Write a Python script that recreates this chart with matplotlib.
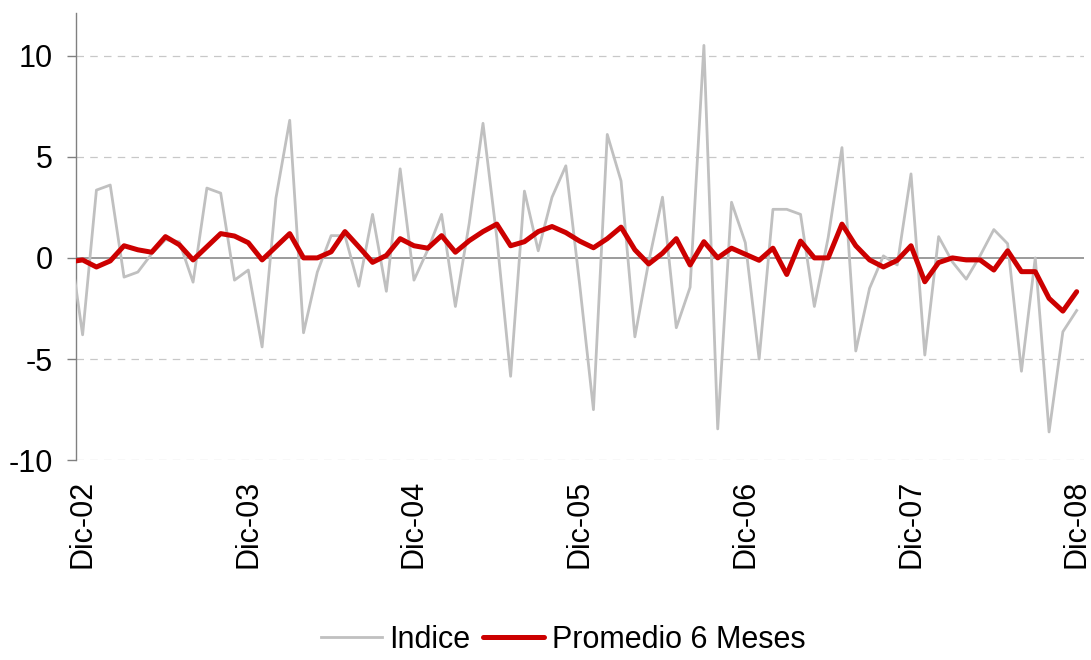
import numpy as np
import matplotlib.pyplot as plt

plt.rcParams['font.family'] = ['Liberation Sans', 'DejaVu Sans']

# monthly values, Nov-02 .. Dic-08 (first point sits just left of the axis)
indice = [1.0,
          -3.8, 3.35, 3.6, -0.95, -0.7, 0.2, 0.9, 0.8, -1.2, 3.45, 3.2, -1.1,
          -0.6, -4.4, 2.95, 6.8, -3.7, -0.7, 1.1, 1.1, -1.4, 2.15, -1.65, 4.4,
          -1.1, 0.4, 2.15, -2.4, 1.7, 6.65, 1.0, -5.85, 3.3, 0.35, 3.0, 4.55,
          -1.3, -7.5, 6.1, 3.8, -3.9, -0.2, 3.0, -3.45, -1.45, 10.5, -8.45, 2.75,
          0.75, -5.0, 2.4, 2.4, 2.15, -2.4, 1.0, 5.45, -4.6, -1.5, 0.1, -0.35,
          4.15, -4.8, 1.05, -0.2, -1.05, 0.1, 1.4, 0.7, -5.6, 0.0, -8.6, -3.65,
          -2.6]

promedio_6m = [-0.2,
               -0.1, -0.45, -0.15, 0.6, 0.4, 0.28, 1.05, 0.65, -0.1, 0.55, 1.2, 1.08,
               0.75, -0.1, 0.55, 1.2, 0.0, 0.0, 0.3, 1.3, 0.55, -0.22, 0.12, 0.95,
               0.6, 0.48, 1.1, 0.28, 0.85, 1.3, 1.67, 0.6, 0.8, 1.3, 1.55, 1.25,
               0.83, 0.5, 0.95, 1.52, 0.4, -0.3, 0.23, 0.95, -0.35, 0.8, 0.0, 0.48,
               0.18, -0.12, 0.48, -0.82, 0.83, 0.0, 0.0, 1.67, 0.6, -0.1, -0.45, -0.12,
               0.6, -1.18, -0.23, 0.0, -0.1, -0.1, -0.6, 0.35, -0.68, -0.68, -2.0, -2.63,
               -1.67]

tick_labels = ['Dic-02', 'Dic-03', 'Dic-04', 'Dic-05', 'Dic-06', 'Dic-07', 'Dic-08']
y_ticks = [-10, -5, 0, 5, 10]

x = np.arange(len(indice)) - 1

fig = plt.figure(figsize=(10.91, 6.6), dpi=100)
ax = fig.add_axes([0.0694, 0.3026, 0.9238, 0.6777])

for y in y_ticks:
    if y != 0:
        ax.axhline(y, color='#c8c8c8', lw=0.9, ls=(0, (6, 5)), zorder=1)
ax.axhline(0, color='#808080', lw=1.1, zorder=2)

ax.plot(x, indice, color='#c0c0c0', lw=2.0, label='Indice', zorder=3)
ax.plot(x, promedio_6m, color='#cc0000', lw=3.6, label='Promedio 6 Meses',
        zorder=4, solid_joinstyle='round', solid_capstyle='round')

ax.set_xlim(-0.5, 72.5)
ax.set_ylim(-10, 12.1)

ax.set_yticks(y_ticks)
ax.set_yticklabels([str(v) for v in y_ticks], fontsize=22)
ax.tick_params(axis='y', direction='out', length=6.5, width=1, color='#808080', pad=10)

ax.set_xticks(np.arange(0, 73, 12))
ax.set_xticklabels(tick_labels, rotation=90, fontsize=22)
ax.tick_params(axis='x', length=0, pad=14)

for side in ['top', 'right', 'bottom']:
    ax.spines[side].set_visible(False)
ax.spines['left'].set_color('#808080')
ax.spines['left'].set_linewidth(1)

fig.legend(loc='center', bbox_to_anchor=(0.516, 0.031), ncol=2, frameon=False,
           fontsize=22, handlelength=2.0, handletextpad=0.25, columnspacing=0.4)

fig.savefig('out.png', dpi=100)
